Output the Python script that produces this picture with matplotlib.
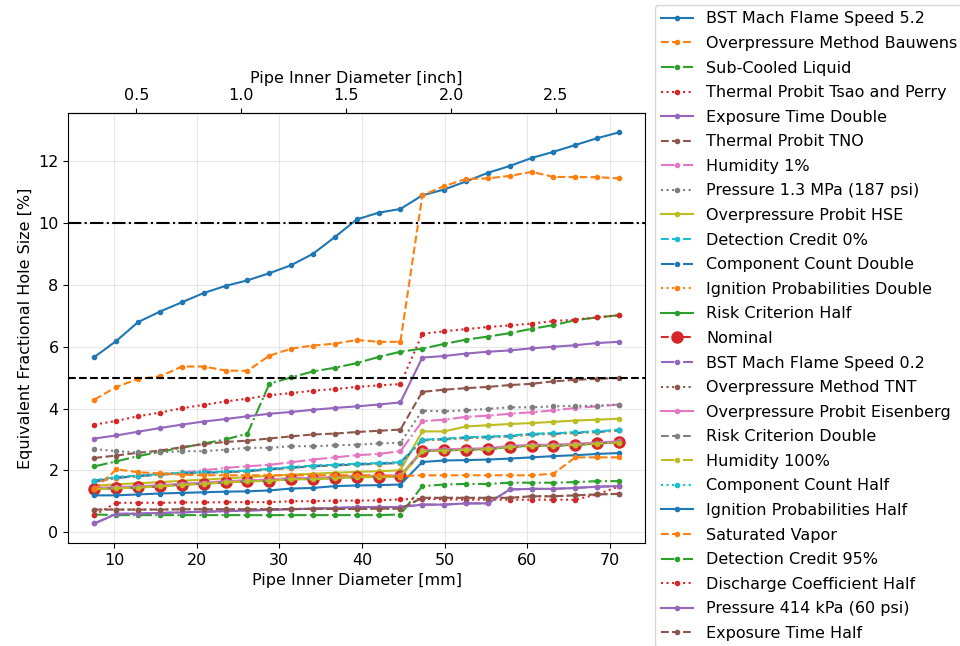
import matplotlib
matplotlib.use("Agg")
import matplotlib.pyplot as plt

plt.rcParams['font.size'] = 11.5

# pipe inner diameters [mm]
diam_mm = [7.62, 10.27, 12.91, 15.56, 18.20, 20.85, 23.50, 26.14, 28.79, 31.43,
           34.08, 36.72, 39.37, 42.02, 44.66, 47.31, 49.95, 52.60, 55.25, 57.89,
           60.54, 63.18, 65.83, 68.47, 71.12]

bst_52 = [5.67, 6.19, 6.80, 7.14, 7.44, 7.74, 7.97, 8.15, 8.38, 8.64, 9.01, 9.55, 10.12,
          10.34, 10.46, 10.90, 11.09, 11.35, 11.63, 11.85, 12.11, 12.31, 12.53, 12.75, 12.94]
op_bauwens = [4.29, 4.70, 4.96, 5.04, 5.36, 5.36, 5.23, 5.22, 5.71, 5.94, 6.04, 6.10, 6.22,
              6.16, 6.16, 10.90, 11.20, 11.43, 11.45, 11.53, 11.66, 11.50, 11.49, 11.49, 11.45]
subcooled = [2.13, 2.29, 2.46, 2.60, 2.73, 2.87, 3.00, 3.19, 4.80, 5.01, 5.20, 5.32, 5.47,
             5.67, 5.84, 5.94, 6.09, 6.23, 6.33, 6.44, 6.58, 6.70, 6.86, 6.95, 7.02]
tsao_perry = [3.48, 3.60, 3.75, 3.87, 4.01, 4.12, 4.23, 4.32, 4.43, 4.50, 4.58, 4.63, 4.70,
              4.75, 4.79, 6.42, 6.50, 6.57, 6.64, 6.69, 6.75, 6.83, 6.88, 6.95, 7.02]
exposure_double = [3.03, 3.13, 3.25, 3.37, 3.48, 3.58, 3.66, 3.75, 3.83, 3.89, 3.96, 4.02, 4.07,
                   4.13, 4.20, 5.65, 5.70, 5.78, 5.84, 5.88, 5.95, 6.00, 6.05, 6.12, 6.16]
thermal_tno = [2.40, 2.48, 2.57, 2.64, 2.75, 2.85, 2.92, 2.96, 3.03, 3.10, 3.16, 3.19, 3.24,
               3.28, 3.32, 4.54, 4.61, 4.66, 4.70, 4.76, 4.80, 4.88, 4.93, 4.96, 4.99]
humidity_1 = [1.62, 1.75, 1.82, 1.87, 1.93, 2.00, 2.08, 2.13, 2.18, 2.26, 2.35, 2.42, 2.49,
              2.53, 2.62, 3.59, 3.64, 3.73, 3.77, 3.83, 3.88, 3.94, 4.02, 4.07, 4.13]
pressure_13 = [2.69, 2.62, 2.58, 2.58, 2.62, 2.62, 2.67, 2.73, 2.73, 2.78, 2.78, 2.81, 2.83,
               2.87, 2.89, 3.93, 3.91, 3.94, 3.99, 4.04, 4.04, 4.07, 4.09, 4.09, 4.13]
op_hse = [1.50, 1.55, 1.58, 1.62, 1.66, 1.70, 1.74, 1.78, 1.82, 1.86, 1.89, 1.92, 1.95,
          1.97, 2.00, 3.26, 3.26, 3.42, 3.46, 3.50, 3.53, 3.57, 3.61, 3.64, 3.67]
det_credit_0 = [1.67, 1.78, 1.83, 1.88, 1.92, 1.94, 1.96, 1.99, 2.05, 2.10, 2.15, 2.18, 2.21,
                2.23, 2.26, 2.99, 3.02, 3.07, 3.09, 3.12, 3.18, 3.20, 3.23, 3.26, 3.31]
cc_double = [1.65, 1.76, 1.81, 1.86, 1.90, 1.92, 1.94, 1.97, 2.03, 2.08, 2.13, 2.16, 2.19,
             2.21, 2.24, 2.97, 3.00, 3.05, 3.07, 3.10, 3.16, 3.18, 3.21, 3.24, 3.29]
ign_double = [1.65, 1.76, 1.81, 1.86, 1.90, 1.92, 1.94, 1.97, 2.03, 2.08, 2.13, 2.16, 2.19,
              2.21, 2.24, 2.97, 3.00, 3.05, 3.07, 3.10, 3.16, 3.18, 3.21, 3.24, 3.29]
risk_half = [1.40, 1.43, 1.45, 1.49, 1.54, 1.57, 1.62, 1.65, 1.67, 1.72, 1.72, 1.76, 1.79,
             1.79, 1.81, 2.62, 2.65, 2.67, 2.69, 2.76, 2.80, 2.80, 2.83, 2.87, 2.91]
nominal = [1.40, 1.43, 1.45, 1.49, 1.54, 1.57, 1.62, 1.65, 1.67, 1.72, 1.72, 1.76, 1.79,
           1.79, 1.81, 2.62, 2.65, 2.67, 2.69, 2.76, 2.80, 2.80, 2.83, 2.87, 2.91]
bst_02 = [0.28, 0.59, 0.60, 0.62, 0.64, 0.66, 0.68, 0.70, 0.72, 0.74, 0.76, 0.78, 0.81,
          0.81, 0.81, 0.89, 0.89, 0.93, 0.93, 1.38, 1.40, 1.40, 1.43, 1.47, 1.49]
op_tnt = [0.73, 0.73, 0.73, 0.73, 0.74, 0.74, 0.74, 0.74, 0.74, 0.75, 0.75, 0.75, 0.75,
          0.76, 0.76, 1.11, 1.11, 1.11, 1.11, 1.11, 1.16, 1.16, 1.19, 1.22, 1.24]
op_eisenberg = [1.43, 1.46, 1.48, 1.52, 1.57, 1.60, 1.65, 1.68, 1.70, 1.75, 1.75, 1.79, 1.82,
                1.82, 1.84, 2.65, 2.68, 2.70, 2.72, 2.79, 2.83, 2.83, 2.86, 2.90, 2.94]
risk_double = [1.40, 1.43, 1.45, 1.49, 1.54, 1.57, 1.62, 1.65, 1.67, 1.72, 1.72, 1.76, 1.79,
               1.79, 1.81, 2.62, 2.65, 2.67, 2.69, 2.76, 2.80, 2.80, 2.83, 2.87, 2.91]
humidity_100 = [1.39, 1.42, 1.44, 1.48, 1.53, 1.56, 1.61, 1.64, 1.66, 1.71, 1.71, 1.75, 1.78,
                1.78, 1.80, 2.61, 2.64, 2.66, 2.68, 2.75, 2.79, 2.79, 2.82, 2.86, 2.90]
cc_half = [1.67, 1.78, 1.83, 1.88, 1.92, 1.94, 1.96, 1.99, 2.05, 2.10, 2.15, 2.18, 2.21,
           2.23, 2.26, 2.99, 3.02, 3.07, 3.09, 3.12, 3.18, 3.20, 3.23, 3.26, 3.31]
ign_half = [1.19, 1.19, 1.22, 1.25, 1.27, 1.29, 1.31, 1.32, 1.35, 1.41, 1.43, 1.49, 1.51,
            1.52, 1.54, 2.27, 2.32, 2.33, 2.35, 2.38, 2.42, 2.46, 2.49, 2.53, 2.56]
sat_vapor = [1.38, 2.03, 1.94, 1.90, 1.86, 1.84, 1.84, 1.84, 1.84, 1.84, 1.84, 1.84, 1.84,
             1.84, 1.81, 1.84, 1.84, 1.84, 1.84, 1.84, 1.84, 1.89, 2.42, 2.42, 2.42]
det_credit_95 = [0.57, 0.55, 0.55, 0.55, 0.55, 0.55, 0.55, 0.55, 0.55, 0.55, 0.55, 0.55, 0.55,
                 0.55, 0.57, 1.49, 1.54, 1.56, 1.56, 1.60, 1.60, 1.60, 1.62, 1.65, 1.65]
discharge_half = [0.55, 0.95, 0.95, 0.95, 0.96, 0.96, 0.97, 0.97, 0.97, 1.00, 1.00, 1.02, 1.02,
                  1.03, 1.06, 1.08, 1.06, 1.05, 1.05, 1.05, 1.05, 1.05, 1.05, 1.22, 1.48]
pressure_414 = [0.28, 0.59, 0.60, 0.62, 0.64, 0.66, 0.68, 0.70, 0.72, 0.74, 0.76, 0.78, 0.81,
                0.81, 0.81, 0.89, 0.89, 0.93, 0.93, 1.38, 1.40, 1.40, 1.43, 1.47, 1.49]
exposure_half = [0.73, 0.73, 0.73, 0.73, 0.74, 0.74, 0.74, 0.74, 0.74, 0.75, 0.75, 0.75, 0.75,
                 0.76, 0.76, 1.11, 1.11, 1.11, 1.11, 1.11, 1.16, 1.16, 1.19, 1.22, 1.24]

series = [
    ("BST Mach Flame Speed 5.2", bst_52),
    ("Overpressure Method Bauwens", op_bauwens),
    ("Sub-Cooled Liquid", subcooled),
    ("Thermal Probit Tsao and Perry", tsao_perry),
    ("Exposure Time Double", exposure_double),
    ("Thermal Probit TNO", thermal_tno),
    ("Humidity 1%", humidity_1),
    ("Pressure 1.3 MPa (187 psi)", pressure_13),
    ("Overpressure Probit HSE", op_hse),
    ("Detection Credit 0%", det_credit_0),
    ("Component Count Double", cc_double),
    ("Ignition Probabilities Double", ign_double),
    ("Risk Criterion Half", risk_half),
    ("Nominal", nominal),
    ("BST Mach Flame Speed 0.2", bst_02),
    ("Overpressure Method TNT", op_tnt),
    ("Overpressure Probit Eisenberg", op_eisenberg),
    ("Risk Criterion Double", risk_double),
    ("Humidity 100%", humidity_100),
    ("Component Count Half", cc_half),
    ("Ignition Probabilities Half", ign_half),
    ("Saturated Vapor", sat_vapor),
    ("Detection Credit 95%", det_credit_95),
    ("Discharge Coefficient Half", discharge_half),
    ("Pressure 414 kPa (60 psi)", pressure_414),
    ("Exposure Time Half", exposure_half),
]

styles = ['-', '--', '-.', ':']

fig = plt.figure(figsize=(9.6, 6.46), dpi=100)
ax = fig.add_axes([0.0711, 0.1594, 0.601, 0.666])

for i, (label, vals) in enumerate(series):
    color = 'C%d' % (i % 10)
    if label == "Nominal":
        ax.plot(diam_mm, vals, linestyle=styles[i % 4], color=color, marker='o',
                markersize=8, label=label)
    else:
        ax.plot(diam_mm, vals, linestyle=styles[i % 4], color=color, marker='.',
                label=label)

ax.axhline(10, color='k', linestyle='-.', linewidth=1.5)
ax.axhline(5, color='k', linestyle='--', linewidth=1.5)

ax.set_xlabel("Pipe Inner Diameter [mm]")
ax.set_ylabel("Equivalent Fractional Hole Size [%]")
ax.grid(alpha=0.3)

top = ax.secondary_xaxis('top', functions=(lambda x: x / 25.4, lambda x: x * 25.4))
top.set_xlabel("Pipe Inner Diameter [inch]")

ax.legend(loc='upper left', bbox_to_anchor=(655 / 960, 1 - 5 / 646),
          bbox_transform=fig.transFigure, borderaxespad=0, labelspacing=0.6)

fig.savefig("out.png", dpi=100)
